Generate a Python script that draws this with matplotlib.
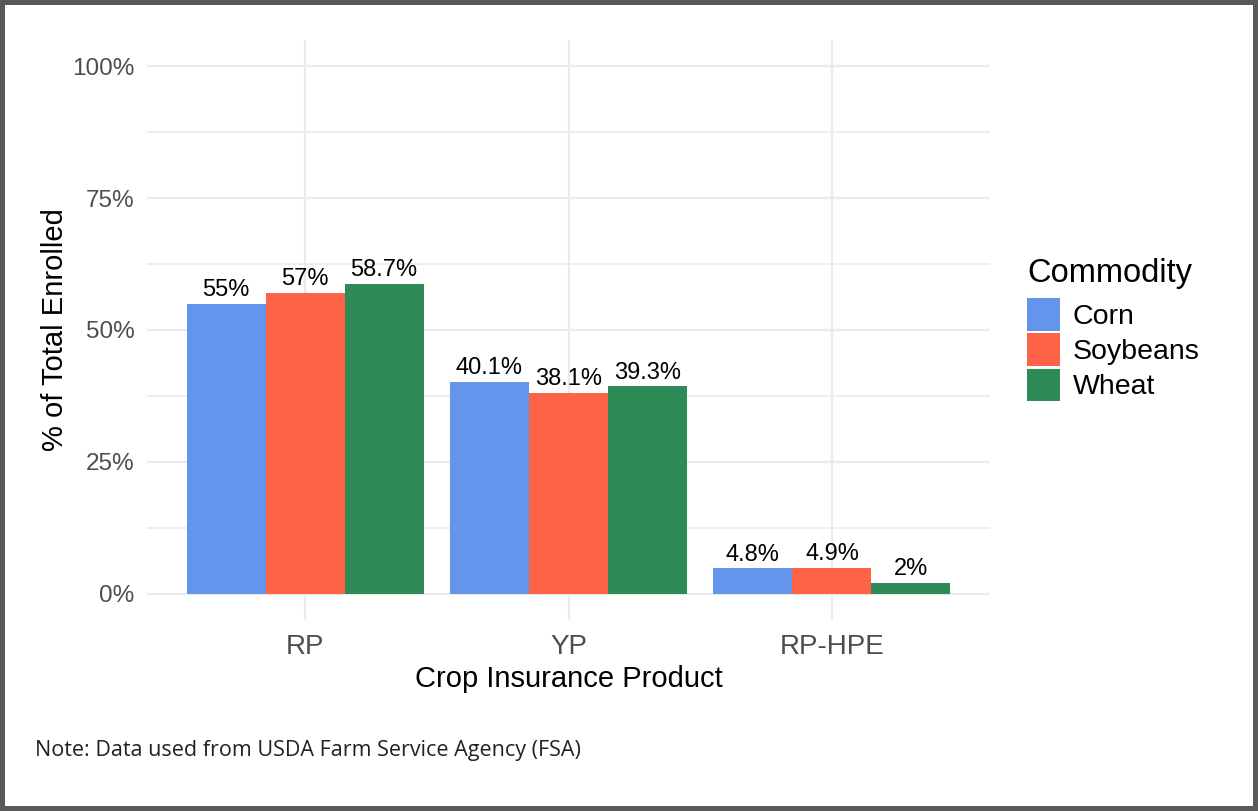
import matplotlib
matplotlib.use("Agg")
import matplotlib.pyplot as plt
from matplotlib.patches import Patch, Rectangle
from matplotlib.ticker import MultipleLocator, PercentFormatter

plt.rcParams['font.family'] = ['Liberation Sans', 'DejaVu Sans']

# enrollment share by crop insurance product (%)
products = ['RP', 'YP', 'RP-HPE']
commodities = ['Corn', 'Soybeans', 'Wheat']
corn = [55, 40.1, 4.8]
soybeans = [57, 38.1, 4.9]
wheat = [58.7, 39.3, 2]
colors = ['#6495ED', '#FF6347', '#2E8B57']

W, H = 1258, 811
fig = plt.figure(figsize=(W / 100, H / 100), dpi=100)
ax = fig.add_axes([147 / W, 1 - 620 / H, (990 - 147) / W, (620 - 40) / H])

x = list(range(1, len(products) + 1))
bw = 0.3
for k, (vals, col) in enumerate(zip([corn, soybeans, wheat], colors)):
    xs = [xi + (k - 1) * bw for xi in x]
    ax.bar(xs, vals, width=bw, color=col, zorder=3)
    for xi, v in zip(xs, vals):
        ax.annotate('{:g}%'.format(v), (xi, v), xytext=(0, 2), textcoords='offset points',
                    ha='center', va='bottom', fontsize=17, color='black', zorder=4)

ax.set_xlim(0.4, 3.6)
ax.set_ylim(-5, 105)
ax.set_xticks(x)
ax.set_xticklabels(products)
ax.yaxis.set_minor_locator(MultipleLocator(12.5))
ax.set_yticks([0, 25, 50, 75, 100])
ax.yaxis.set_major_formatter(PercentFormatter(decimals=0))

ax.grid(True, which='major', color='#EBEBEB', lw=1.6, zorder=0)
ax.grid(True, which='minor', axis='y', color='#EBEBEB', lw=1.2, zorder=0)
for s in ax.spines.values():
    s.set_visible(False)
ax.tick_params(axis='both', which='both', length=0)
ax.tick_params(axis='x', labelsize=20, labelcolor='#4D4D4D', pad=10)
ax.tick_params(axis='y', labelsize=17.5, labelcolor='#4D4D4D', pad=9)

ax.set_xlabel('Crop Insurance Product', fontsize=21, color='black', labelpad=4)
ax.set_ylabel('% of Total Enrolled', fontsize=21, color='black', labelpad=2)

# legend: title placed on its own, keys below
fig.text(1027 / W, 1 - 282 / H, 'Commodity', fontsize=23.5, color='black',
         ha='left', va='baseline')
handles = [Patch(facecolor=c, edgecolor='none') for c in colors]
leg = fig.legend(handles, commodities, loc='upper left',
                 bbox_to_anchor=(1027 / W, 1 - 298 / H), frameon=False,
                 fontsize=20.5, handlelength=1.15, handleheight=1.405,
                 handletextpad=0.45, labelspacing=0.08, borderpad=0, borderaxespad=0)

fig.text(35 / W, 1 - 756 / H, 'Note: Data used from USDA Farm Service Agency (FSA)',
         fontsize=15.5, family='Open Sans', color='#222222', va='baseline', ha='left')

fig.add_artist(Rectangle((0, 0), 1, 1, transform=fig.transFigure, fill=False,
                         lw=7.2, edgecolor='#595959'))

fig.savefig('out.png', dpi=100)
